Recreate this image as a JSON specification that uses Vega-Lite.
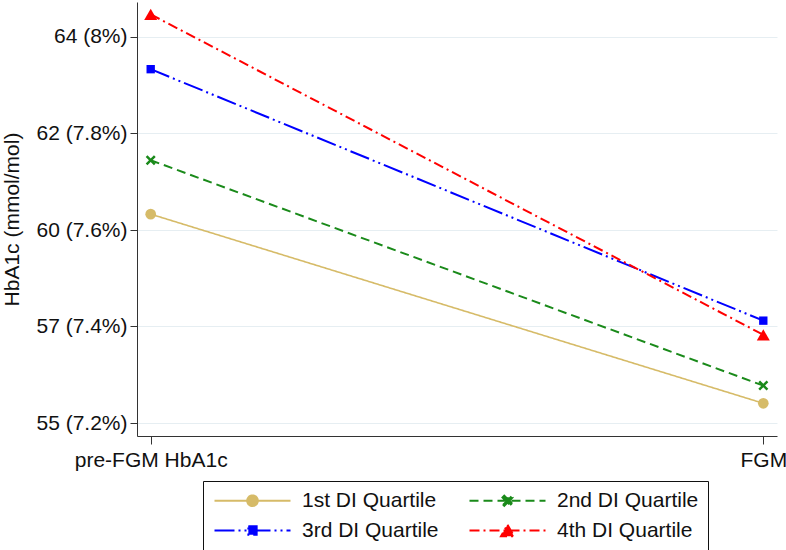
{
  "$schema": "https://vega.github.io/schema/vega-lite/v6.json",
  "width": 640,
  "height": 434,
  "autosize": "none",
  "padding": {"left": 137, "top": 2, "right": 9, "bottom": 114},
  "background": "white",
  "config": {
    "view": {"stroke": null},
    "font": "Liberation Sans"
  },
  "data": {
    "values": [
      {"group": "1st DI Quartile", "time": "pre-FGM HbA1c", "hba1c": 59.92},
      {"group": "1st DI Quartile", "time": "FGM", "hba1c": 55.64},
      {"group": "2nd DI Quartile", "time": "pre-FGM HbA1c", "hba1c": 61.14},
      {"group": "2nd DI Quartile", "time": "FGM", "hba1c": 56.04},
      {"group": "3rd DI Quartile", "time": "pre-FGM HbA1c", "hba1c": 63.20},
      {"group": "3rd DI Quartile", "time": "FGM", "hba1c": 57.51},
      {"group": "4th DI Quartile", "time": "pre-FGM HbA1c", "hba1c": 64.44},
      {"group": "4th DI Quartile", "time": "FGM", "hba1c": 57.19}
    ]
  },
  "encoding": {
    "x": {
      "field": "time",
      "type": "nominal",
      "sort": ["pre-FGM HbA1c", "FGM"],
      "scale": {"type": "point", "padding": 0.02236},
      "axis": {
        "title": null,
        "labelAngle": 0,
        "labelFontSize": 21,
        "labelColor": "#111",
        "labelPadding": 5,
        "tickSize": 8,
        "tickColor": "#333",
        "domainColor": "#333",
        "grid": false
      }
    },
    "y": {
      "field": "hba1c",
      "type": "quantitative",
      "scale": {"domain": [54.90, 64.72], "nice": false, "zero": false},
      "axis": {
        "title": "HbA1c (mmol/mol)",
        "titleFontSize": 21,
        "titleFontWeight": "normal",
        "titleColor": "#111",
        "titleX": -125,
        "titleBaseline": "middle",
        "values": [55.19, 57.38, 59.56, 61.75, 63.93],
        "labelExpr": "datum.value < 56 ? '55 (7.2%)' : datum.value < 58 ? '57 (7.4%)' : datum.value < 60.5 ? '60 (7.6%)' : datum.value < 62.5 ? '62 (7.8%)' : '64 (8%)'",
        "labelFontSize": 21,
        "labelColor": "#111",
        "labelPadding": 3,
        "tickSize": 7,
        "tickColor": "#333",
        "domainColor": "#333",
        "grid": true,
        "gridColor": "#e6eef2"
      }
    },
    "color": {
      "field": "group",
      "type": "nominal",
      "scale": {
        "domain": ["1st DI Quartile", "2nd DI Quartile", "3rd DI Quartile", "4th DI Quartile"],
        "range": ["#d6bb68", "#1a8a1a", "#0000ff", "#ff0000"]
      },
      "legend": {
        "title": null,
        "orient": "none",
        "legendX": 66,
        "legendY": 479,
        "columns": 2,
        "direction": "horizontal",
        "strokeColor": "#111",
        "padding": 9,
        "columnPadding": 26,
        "rowPadding": 8,
        "symbolSize": 100,
        "symbolStrokeWidth": 2,
        "labelOffset": 69,
        "labelFontSize": 21,
        "labelColor": "#111",
        "labelFont": "Liberation Sans",
        "encode": {
          "symbols": {
            "update": {
              "shape": {"signal": "datum.value === '1st DI Quartile' ? 'M-1.6,0H13.6M7.06,0A1.06,1.06 0 1,1 4.94,0A1.06,1.06 0 1,1 7.06,0Z' : datum.value === '2nd DI Quartile' ? 'M-1.6,0H13.6M5,-0.65L5.35,-1L6,-0.35L6.65,-1L7,-0.65L6.35,0L7,0.65L6.65,1L6,0.35L5.35,1L5,0.65L5.65,0Z' : datum.value === '3rd DI Quartile' ? 'M-1.6,0H13.6M5.17,-0.83H6.83V0.83H5.17Z' : 'M-1.6,0H13.6M6,-1.13L7.3,1.13H4.7Z'"},
              "fill": {"scale": "color", "field": "value"},
              "stroke": {"scale": "color", "field": "value"},
              "fillOpacity": {"value": 1},
              "strokeDash": {"signal": "datum.value === '1st DI Quartile' ? [1,0] : datum.value === '2nd DI Quartile' ? [9,5] : datum.value === '3rd DI Quartile' ? [18,5,2,5] : [10,5,2,5]"},
              "strokeWidth": {"value": 2},
              "size": {"value": 100}
            }
          }
        }
      }
    }
  },
  "layer": [
    {
      "mark": {"type": "line"},
      "encoding": {
        "detail": {"field": "group"},
        "strokeDash": {
          "field": "group",
          "type": "nominal",
          "scale": {
            "domain": ["1st DI Quartile", "2nd DI Quartile", "3rd DI Quartile", "4th DI Quartile"],
            "range": [[1, 0], [9, 5], [20, 4, 2, 4, 2, 4], [10, 4, 2, 4]]
          },
          "legend": null
        },
        "strokeWidth": {
          "condition": {"test": "datum.group === '1st DI Quartile'", "value": 1.6},
          "value": 2
        }
      }
    },
    {
      "mark": {"type": "point", "filled": true, "opacity": 1},
      "encoding": {
        "shape": {
          "condition": [
            {"test": "datum.group === '1st DI Quartile'", "value": "circle"},
            {"test": "datum.group === '2nd DI Quartile'", "value": "M-1,-0.65L-0.65,-1L0,-0.35L0.65,-1L1,-0.65L0.35,0L1,0.65L0.65,1L0,0.35L-0.65,1L-1,0.65L-0.35,0Z"},
            {"test": "datum.group === '3rd DI Quartile'", "value": "square"}
          ],
          "value": "triangle-up"
        },
        "size": {
          "condition": [
            {"test": "datum.group === '1st DI Quartile'", "value": 114},
            {"test": "datum.group === '2nd DI Quartile'", "value": 100},
            {"test": "datum.group === '3rd DI Quartile'", "value": 70}
          ],
          "value": 169
        }
      }
    }
  ]
}
